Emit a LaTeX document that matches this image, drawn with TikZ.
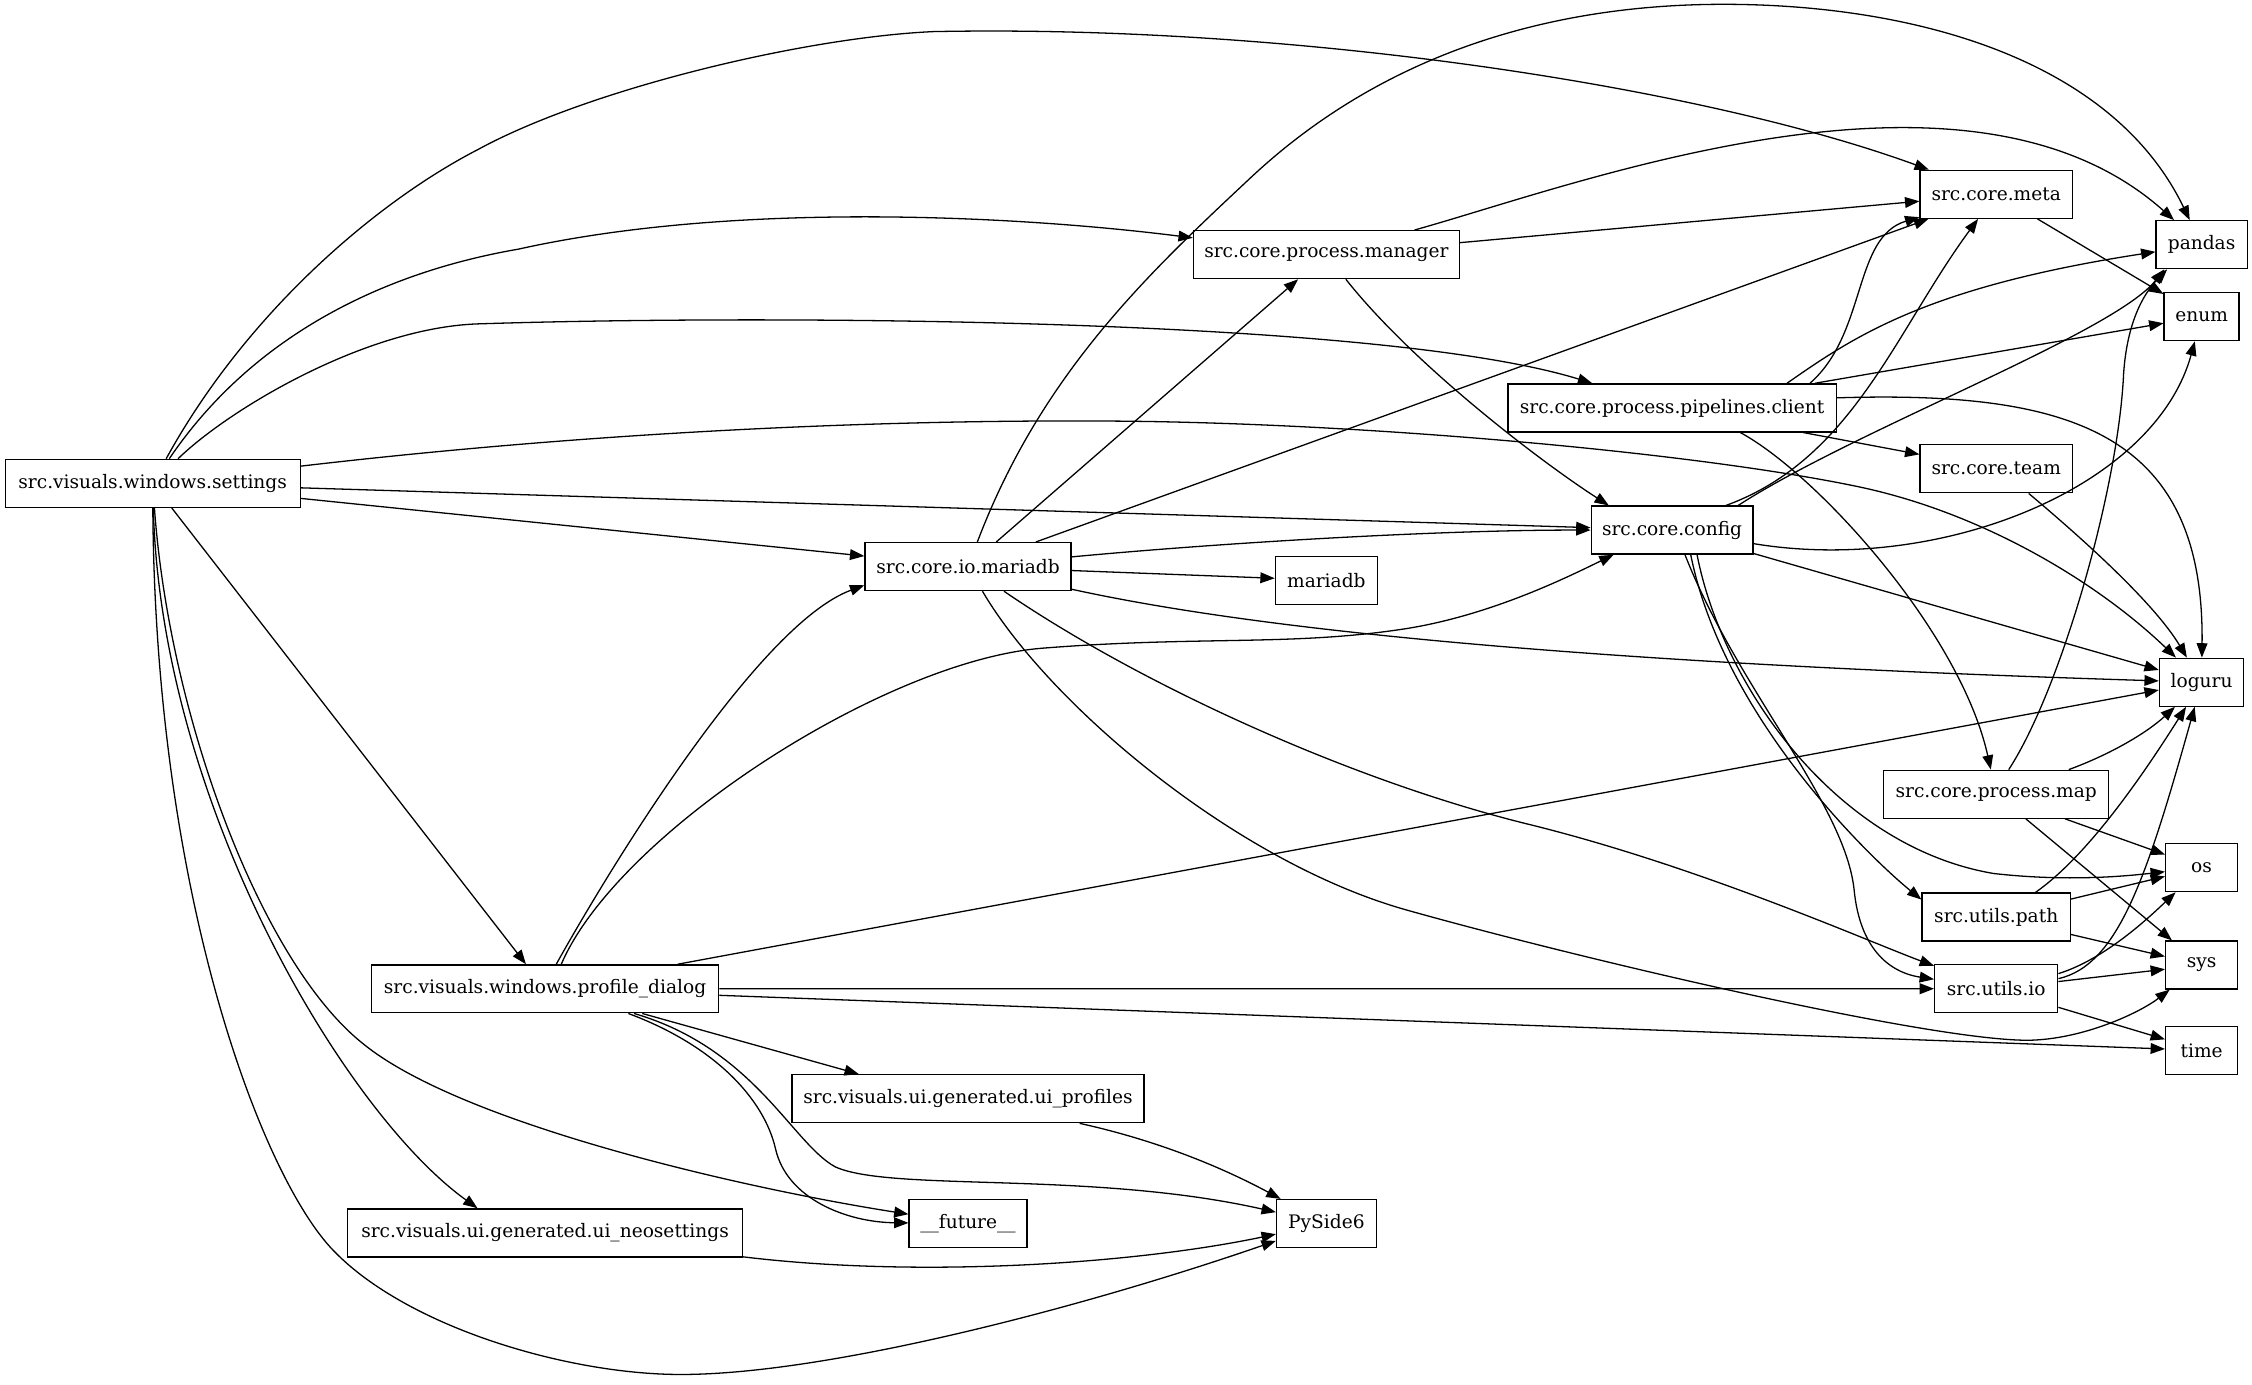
\documentclass[tikz,border=0pt]{standalone}
\usepackage{fontspec}
\setmainfont{DejaVu Serif}
\usetikzlibrary{arrows.meta}

\begin{document}
\begin{tikzpicture}[
x=1pt,y=-1pt,
mod/.style={draw,line width=0.9pt,minimum height=33.4pt,inner xsep=3pt,inner ysep=2pt,font=\fontsize{12.95pt}{15pt}\selectfont},
arr/.style={-{Triangle[length=10pt,width=7.5pt]},line width=0.9pt}
]
\useasboundingbox (0,0) rectangle (1568,964);
\node[mod,minimum width=205.4pt] (settings) at (106.3,336.5) {src.visuals.windows.settings};
\node[mod,minimum width=185pt] (manager) at (923.5,177.3) {src.core.process.manager};
\node[mod,minimum width=106.1pt] (meta) at (1389.9,135.3) {src.core.meta};
\node[mod,minimum width=63.4pt] (pandas) at (1532.9,170.4) {pandas};
\node[mod,minimum width=52.2pt] (enum) at (1532.9,220.5) {enum};
\node[mod,minimum width=228.6pt] (client) at (1164.2,284) {src.core.process.pipelines.client};
\node[mod,minimum width=106.1pt] (team) at (1389.9,326.4) {src.core.team};
\node[mod,minimum width=112.6pt] (config) at (1164.2,369.1) {src.core.config};
\node[mod,minimum width=143.5pt] (iodb) at (674,394.5) {src.core.io.mariadb};
\node[mod,minimum width=71pt] (mariadb) at (923.5,404) {mariadb};
\node[mod,minimum width=58.7pt] (loguru) at (1532.9,475) {loguru};
\node[mod,minimum width=156.5pt] (pmap) at (1389.9,553) {src.core.process.map};
\node[mod,minimum width=50.1pt] (os) at (1532.9,604.1) {os};
\node[mod,minimum width=103.3pt] (upath) at (1389.9,638.5) {src.utils.path};
\node[mod,minimum width=50.1pt] (sys) at (1532.9,671.9) {sys};
\node[mod,minimum width=241.7pt] (dialog) at (379.5,688.5) {src.visuals.windows.profile\_dialog};
\node[mod,minimum width=85.7pt] (uio) at (1389.9,688.4) {src.utils.io};
\node[mod,minimum width=50.1pt] (time) at (1532.9,731.3) {time};
\node[mod,minimum width=245pt] (uiprof) at (674,765) {src.visuals.ui.generated.ui\_profiles};
\node[mod,minimum width=82pt] (future) at (674,851.9) {\_\_future\_\_};
\node[mod,minimum width=69.4pt] (pyside) at (923.5,851.9) {PySide6};
\node[mod,minimum width=274.8pt] (uineo) at (379.5,858.4) {src.visuals.ui.generated.ui\_neosettings};

\draw[arr] (settings) .. controls (172,217) and (263,140) .. (333,104) .. controls (410,62) and (560,26) .. (650,22) .. controls (900,17) and (1184,60) .. (meta);
\draw[arr] (settings) .. controls (175,235) and (265,190) .. (360.8,173.5) .. controls (511,140) and (707,150) .. (manager);
\draw[arr] (settings) .. controls (160,284.5) and (255,228) .. (333,225.5) .. controls (533,219) and (960,221) .. (client);
\draw[arr] (settings) .. controls (420,300) and (620,292) .. (777,293.2) .. controls (950,294.5) and (1180,315) .. (1294,338.9) .. controls (1380,357) and (1460,405) .. (loguru);
\draw[arr] (settings) -- (config);
\draw[arr] (settings) -- (iodb);
\draw[arr] (settings) -- (dialog);
\draw[arr] (settings) .. controls (118,500) and (182,670) .. (252.3,726.3) .. controls (320,782) and (515,827) .. (future);
\draw[arr] (settings) .. controls (112,560) and (240,775) .. ([xshift=-47pt]uineo.north);
\draw[arr] (settings) .. controls (108,620) and (180,813) .. (229.8,868.2) .. controls (280,923) and (394,957) .. (474,957) .. controls (574,957) and (749,912) .. (pyside);

\draw[arr] (manager) -- (meta);
\draw[arr] (manager) .. controls (1100,128) and (1370,25) .. (pandas);
\draw[arr] (manager) .. controls (985,255) and (1075,323) .. ([xshift=-44pt]config.north);

\draw[arr] (iodb) .. controls (725,260) and (800,190) .. (870.5,124) .. controls (969,31.6) and (1090,3) .. (1200,3) .. controls (1330,3) and (1470,40) .. (pandas);
\draw[arr] (iodb) -- (manager);
\draw[arr] (iodb) -- (meta);
\draw[arr] (iodb) .. controls (850,378) and (1000,369) .. (config);
\draw[arr] (iodb) -- (mariadb);
\draw[arr] (iodb) .. controls (850,433) and (1050,460) .. (loguru);
\draw[arr] (iodb) .. controls (796,478) and (943,544) .. (1063.4,573.7) .. controls (1183,603) and (1302,656) .. (uio);
\draw[arr] (iodb) .. controls (730,490) and (860,600) .. (979,633.5) .. controls (1098,667) and (1340,724) .. (1411.4,724.3) .. controls (1450,724) and (1490,705) .. (sys);

\draw[arr] ([xshift=96pt]client.north) .. controls (1300,232) and (1290,165) .. (meta);
\draw[arr] ([xshift=80pt]client.north) .. controls (1290,235) and (1340,200) .. (pandas);
\draw[arr] (client) -- (enum);
\draw[arr] ([yshift=7pt]client.east) .. controls (1440,272) and (1535,300) .. (loguru);
\draw[arr] (client) -- (team);
\draw[arr] ([xshift=47.5pt]client.south) .. controls (1265,330) and (1365,440) .. (pmap);

\draw[arr] ([xshift=22.6pt]team.south) .. controls (1450,375) and (1500,420) .. (loguru);

\draw[arr] ([xshift=37.4pt]config.north) .. controls (1290,320) and (1320,230) .. (meta);
\draw[arr] ([xshift=46pt]config.north) .. controls (1290,300) and (1472,232) .. ([xshift=-26pt]pandas.south);
\draw[arr] (config) .. controls (1350,400) and (1500,340) .. (enum);
\draw[arr] (config) -- (loguru);
\draw[arr] ([xshift=17.4pt]config.south) .. controls (1200,480) and (1280,590) .. (1388.2,608.2) .. controls (1440,614) and (1480,610) .. (os);
\draw[arr] ([xshift=13pt]config.south) .. controls (1200,500) and (1303,598) .. ([yshift=-5pt]upath.north west);
\draw[arr] ([xshift=9pt]config.south) .. controls (1210,480) and (1285,560) .. (1291,620) .. controls (1295,660) and (1315,677) .. (uio);

\draw[arr] (meta) -- (enum);

\draw[arr] ([xshift=8.7pt]pmap.north) .. controls (1435,480) and (1475,340) .. (1478.6,260) .. controls (1481,225) and (1492,205) .. ([xshift=-24pt]pandas.south);
\draw[arr] ([xshift=50.5pt]pmap.north) .. controls (1470,525) and (1495,510) .. (loguru);
\draw[arr] (pmap) -- (os);
\draw[arr] (pmap) -- (sys);

\draw[arr] ([xshift=27.3pt]upath.north) .. controls (1455,595) and (1495,535) .. (loguru);
\draw[arr] (upath) -- (os);
\draw[arr] (upath) -- (sys);

\draw[arr] ([yshift=7pt]uio.east) .. controls (1475,672) and (1495,610) .. (loguru);
\draw[arr] ([yshift=10.5pt]uio.east) .. controls (1465,668) and (1495,640) .. (os);
\draw[arr] (uio) -- (sys);
\draw[arr] (uio) -- (time);

\draw[arr] ([xshift=7.8pt]dialog.north) .. controls (422,609) and (527,435) .. ([yshift=-13pt]iodb.west);
\draw[arr] ([xshift=11.3pt]dialog.north) .. controls (430,580) and (616,460) .. (725.9,451.3) .. controls (836,442.6) and (900,450) .. (979,437.7) .. controls (1040,428) and (1095,400) .. ([xshift=-40.7pt]config.south);
\draw[arr] (dialog) -- (loguru);
\draw[arr] (dialog) -- (uio);
\draw[arr] (dialog) -- (time);
\draw[arr] ([xshift=67.7pt]dialog.south) -- ([xshift=-76pt]uiprof.north);
\draw[arr] ([xshift=58pt]dialog.south) .. controls (497.5,728) and (532,765) .. (540,800) .. controls (548,835) and (590,851) .. (future);
\draw[arr] ([xshift=62pt]dialog.south) .. controls (525,730) and (551.5,796) .. (581.5,812.4) .. controls (620,830) and (760,815) .. (pyside);

\draw[arr] (uiprof) .. controls (810,795) and (855,815) .. (pyside);
\draw[arr] (uineo) .. controls (640,890) and (790,880) .. (pyside);
\end{tikzpicture}
\end{document}
